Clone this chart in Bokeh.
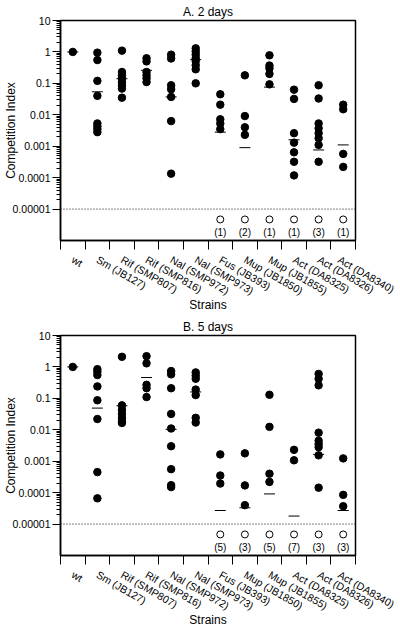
import math
from bokeh.plotting import figure
from bokeh.models import Range1d, FixedTicker, CustomJSTickFormatter, Span, ColumnDataSource
from bokeh.layouts import column
from bokeh.embed import file_html
from bokeh.resources import INLINE
from bokeh.core.properties import value

FONT = "Liberation Sans"

categories = ["wt", "Sm (JB127)", "Rif (SMP807)", "Rif (SMP816)", "Nal (SMP972)",
              "Nal (SMP973)", "Fus (JB393)", "Mup (JB1850)", "Mup (JB1855)",
              "Act (DA8325)", "Act (DA8326)", "Act (DA8340)"]

y_tick_values = [1e-5, 1e-4, 1e-3, 1e-2, 1e-1, 1, 10]
detection_limit = 1e-5

# Panel A: 2 days
day2_values = [
    [1.0],
    [0.95, 0.55, 0.12, 0.04, 0.0053, 0.0043, 0.0035, 0.0028],
    [1.1, 0.23, 0.18, 0.145, 0.11, 0.087, 0.068, 0.035],
    [0.63, 0.5, 0.23, 0.18, 0.145, 0.11],
    [0.82, 0.62, 0.087, 0.065, 0.037, 0.0063, 0.000134],
    [1.3, 1.03, 0.82, 0.64, 0.51, 0.38, 0.28, 0.10],
    [0.045, 0.021, 0.0072, 0.0053, 0.0035],
    [0.18, 0.0091, 0.004, 0.0023],
    [0.78, 0.37, 0.3, 0.2, 0.093],
    [0.063, 0.032, 0.0026, 0.0013, 0.00064, 0.00032, 0.000118],
    [0.087, 0.033, 0.0053, 0.0037, 0.0026, 0.0018, 0.0011, 0.00032],
    [0.021, 0.015, 0.00057, 0.00022],
]
day2_medians = [1.0, 0.054, 0.14, 0.26, 0.037, 0.57, 0.0028, 0.0009, 0.076, 0.0016, 0.00076, 0.0011]
day2_below = [0, 0, 0, 0, 0, 0, 1, 2, 1, 1, 3, 1]

# Panel B: 5 days
day5_values = [
    [1.0],
    [0.85, 0.7, 0.55, 0.24, 0.087, 0.022, 0.00045, 0.000066],
    [2.1, 0.06, 0.043, 0.032, 0.024, 0.019, 0.0165],
    [2.2, 1.3, 0.27, 0.21, 0.11],
    [0.74, 0.58, 0.21, 0.032, 0.011, 0.003, 0.00056, 0.000173, 0.00015],
    [0.67, 0.53, 0.42, 0.19, 0.127, 0.024, 0.017],
    [0.00165, 0.00035, 0.000195],
    [0.00178, 0.00017, 0.00004],
    [0.13, 0.0124, 0.0004, 0.00022],
    [0.0023, 0.00107],
    [0.6, 0.42, 0.26, 0.0081, 0.0045, 0.0035, 0.0028, 0.00154, 0.000144],
    [0.00123, 0.000085, 0.000037],
]
day5_medians = [1.0, 0.049, 0.058, 0.46, 0.0103, 0.16, 0.000027, 0.000033, 0.000091, 0.000018, 0.00165, 0.000027]
day5_below = [0, 0, 0, 0, 0, 0, 5, 3, 5, 7, 3, 3]

BELOW_MARK_LEVEL = 10 ** -5.33
BELOW_TEXT_LEVEL = 10 ** -5.73


def make_panel(title, values, medians, below, top_border):
    p = figure(frame_width=295, frame_height=220,
               x_range=Range1d(0, len(categories)), y_range=Range1d(1e-6, 10),
               y_axis_type="log", output_backend="svg", toolbar_location=None,
               min_border_left=54, min_border_right=41,
               min_border_top=top_border, min_border_bottom=10)
    p.xgrid.visible = False
    p.ygrid.visible = False
    p.outline_line_color = "black"
    p.outline_line_width = 1.5

    p.title.text = title
    p.title.align = "center"
    p.title.text_font = FONT
    p.title.text_font_size = "12px"
    p.title.text_font_style = "normal"
    p.title.text_color = "black"
    p.title.standoff = 4

    xs, ys = [], []
    for i, vals in enumerate(values):
        for v in vals:
            xs.append(i + 0.5)
            ys.append(v)
    pts = ColumnDataSource(dict(x=xs, y=ys))
    p.scatter("x", "y", source=pts, size=7.5, fill_color="black", line_color="black")

    med = ColumnDataSource(dict(x=[i + 0.5 for i in range(len(medians))], y=medians))
    p.scatter("x", "y", source=med, marker="dash", size=11, line_color="black", line_width=1)

    p.add_layout(Span(location=detection_limit, dimension="width", line_color="black",
                      line_width=1, line_dash="1 2"))

    bx = [i + 0.5 for i, n in enumerate(below) if n > 0]
    bt = ["(%d)" % n for n in below if n > 0]
    bsrc = ColumnDataSource(dict(x=bx, ym=[BELOW_MARK_LEVEL] * len(bx),
                                 yt=[BELOW_TEXT_LEVEL] * len(bx), t=bt))
    p.scatter("x", "ym", source=bsrc, size=7, fill_color="white", line_color="black", line_width=1)
    p.text("x", "yt", text="t", source=bsrc, text_align="center", text_baseline="middle",
           text_font=value(FONT), text_font_size="10px", text_color="black")

    # y axis
    ya = p.yaxis[0]
    ya.ticker = FixedTicker(ticks=y_tick_values,
                            minor_ticks=[k * 10.0 ** e for e in range(-5, 1) for k in range(2, 10)])
    ya.formatter = CustomJSTickFormatter(code="""
        const e = Math.round(Math.log10(tick));
        return e >= 0 ? String(Math.round(tick)) : tick.toFixed(-e);
    """)
    ya.axis_label = "Competition Index"
    ya.axis_label_text_font = FONT
    ya.axis_label_text_font_size = "12px"
    ya.axis_label_text_font_style = "normal"
    ya.axis_label_text_color = "black"
    ya.axis_label_standoff = -8
    ya.major_label_text_font = FONT
    ya.major_label_text_font_size = "10.5px"
    ya.major_label_text_color = "black"
    ya.major_label_standoff = 2
    ya.major_tick_out = 8
    ya.major_tick_in = 0
    ya.minor_tick_out = 4
    ya.minor_tick_in = 0
    ya.major_tick_line_color = "black"
    ya.minor_tick_line_color = "black"
    ya.axis_line_width = 1.5
    ya.axis_line_color = "black"

    # x axis
    xa = p.xaxis[0]
    xa.ticker = FixedTicker(ticks=[i + 0.5 for i in range(len(categories))],
                            minor_ticks=list(range(len(categories) + 1)))
    xa.formatter = CustomJSTickFormatter(args=dict(labels=categories),
                                         code="return labels[Math.floor(tick)];")
    xa.major_label_orientation = -math.pi / 6
    xa.major_label_text_font = FONT
    xa.major_label_text_font_size = "10.5px"
    xa.major_label_text_color = "black"
    xa.major_label_text_line_height = 1.0
    xa.major_label_standoff = 9
    xa.major_tick_out = 0
    xa.major_tick_in = 0
    xa.major_tick_line_color = None
    xa.minor_tick_out = 9
    xa.minor_tick_in = 0
    xa.minor_tick_line_color = "black"
    xa.axis_line_width = 1.5
    xa.axis_line_color = "black"
    xa.axis_label = "Strains"
    xa.axis_label_text_font = FONT
    xa.axis_label_text_font_size = "12px"
    xa.axis_label_text_font_style = "normal"
    xa.axis_label_text_color = "black"
    xa.axis_label_text_line_height = 1.0
    xa.axis_label_standoff = -7
    return p


pa = make_panel("A. 2 days", day2_values, day2_medians, day2_below, 17)
pb = make_panel("B. 5 days", day5_values, day5_medians, day5_below, 21)

layout = column(pa, pb, spacing=0)
open("out.html", "w").write(file_html(layout, INLINE))
